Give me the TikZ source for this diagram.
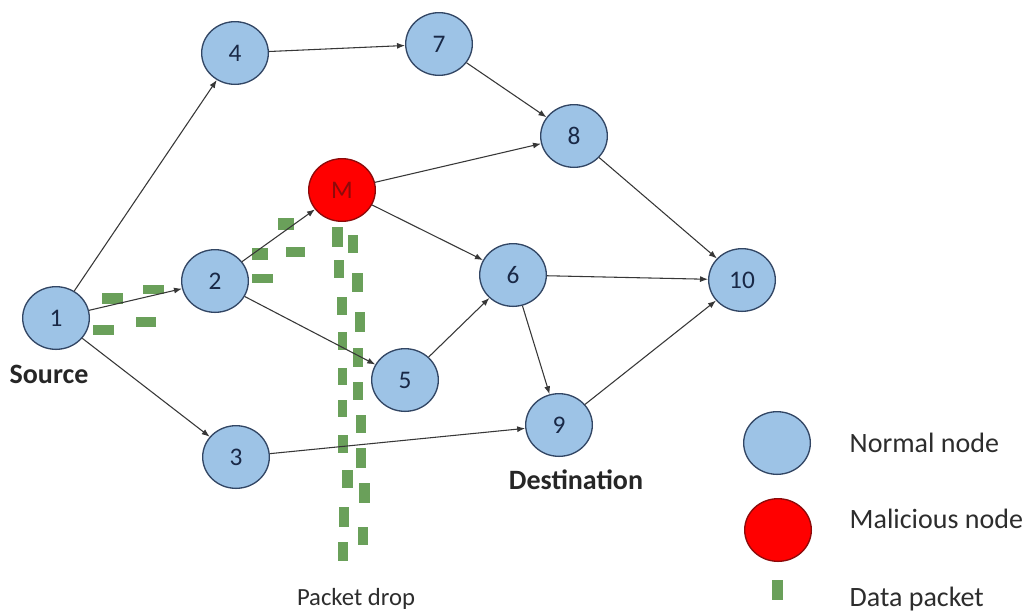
\documentclass[tikz,border=0pt]{standalone}
\usepackage{fontspec}
\setmainfont{Carlito}
\usetikzlibrary{shapes.geometric,arrows.meta}
\definecolor{nfill}{RGB}{157,195,230}
\definecolor{nline}{RGB}{50,70,100}
\definecolor{mfill}{RGB}{255,0,0}
\definecolor{mline}{RGB}{140,10,10}
\definecolor{pkt}{RGB}{106,160,90}
\definecolor{edge}{RGB}{55,55,55}
\definecolor{lbl}{RGB}{25,40,70}
\definecolor{txt}{RGB}{45,45,45}
\begin{document}
\begin{tikzpicture}[x=0.75pt,y=-0.75pt,
  netnode/.style={ellipse,draw=nline,fill=nfill,line width=1pt,minimum width=50pt,minimum height=47pt,inner sep=0pt,text=lbl,font=\fontsize{19}{22}\selectfont},
  badnode/.style={netnode,draw=mline,fill=mfill,text=mline},
  link/.style={draw=edge,line width=0.8pt,-{Latex[length=6pt,width=4.5pt]}},
  pk/.style={fill=pkt},
  tag/.style={font=\fontsize{21}{24}\selectfont\bfseries,text=black!85},
  legtext/.style={font=\fontsize{21}{24}\selectfont,text=txt,anchor=west}]
\useasboundingbox[fill=white] (0,0) rectangle (1027,612);
% packets
\foreach \a/\b/\c/\d in {102/293/123/304,143/285/164/294,93/325/114/335,136/317/156/327,
  252/274/273/283,252/248/268/260,286/247/305/257,278/218/294/230,
  332/227/343/247,334/260/344/278,337/297/347/315,338/332/347/350,338/368/347/385,
  338/400/347/417,338/435/348/453,342/470/353/488,339/507/349/527,338/542/348/561,
  348/235/358/253,352/273/363/292,355/312/365/332,353/348/363/367,353/382/363/400,
  356/415/366/433,356/448/366/468,359/483/370/503,358/527/368/545}
  \fill[pk] (\a,\b) rectangle (\c,\d);
% nodes
\node[netnode] (n1) at (56,318) {1};
\node[netnode] (n2) at (215,281) {2};
\node[netnode] (n3) at (236,457) {3};
\node[netnode] (n4) at (235,53) {4};
\node[netnode] (n5) at (405,380) {5};
\node[netnode] (n6) at (513,275) {6};
\node[netnode] (n7) at (439,44) {7};
\node[netnode] (n8) at (574,136) {8};
\node[netnode] (n9) at (559,425) {9};
\node[netnode] (n10) at (742,280) {10};
\node[badnode] (m) at (342,190) {M};
% edges
\draw[link] (n1) -- (n4);
\draw[link] (n1) -- (n2);
\draw[link] (n1) -- (n3);
\draw[link] (n4) -- (n7);
\draw[link] (n7) -- (n8);
\draw[link] (n2) -- (m);
\draw[link] (n2) -- (n5);
\draw[link] (m) -- (n8);
\draw[link] (m) -- (n6);
\draw[link] (n5) -- (n6);
\draw[link] (n6) -- (n10);
\draw[link] (n6) -- (n9);
\draw[link] (n8) -- (n10);
\draw[link] (n3) -- (n9);
\draw[link] (n9) -- (n10);
% labels
\node[tag] (src) at (49,374) {Source};
\node[tag] (dst) at (576,480) {Destination};
\node[font=\fontsize{18.5}{21}\selectfont,text=txt] (drop) at (356,599) {Packet drop};
% legend
\node[netnode] (lg1) at (777,443) {};
\node[badnode] (lg2) at (778,530) {};
\fill[pk] (772,580) rectangle (783,600);
\node[legtext] (lt1) at (845,443) {Normal node};
\node[legtext] (lt2) at (845,519) {Malicious node};
\node[legtext] (lt3) at (845,599) {Data packet};
\end{tikzpicture}
\end{document}
